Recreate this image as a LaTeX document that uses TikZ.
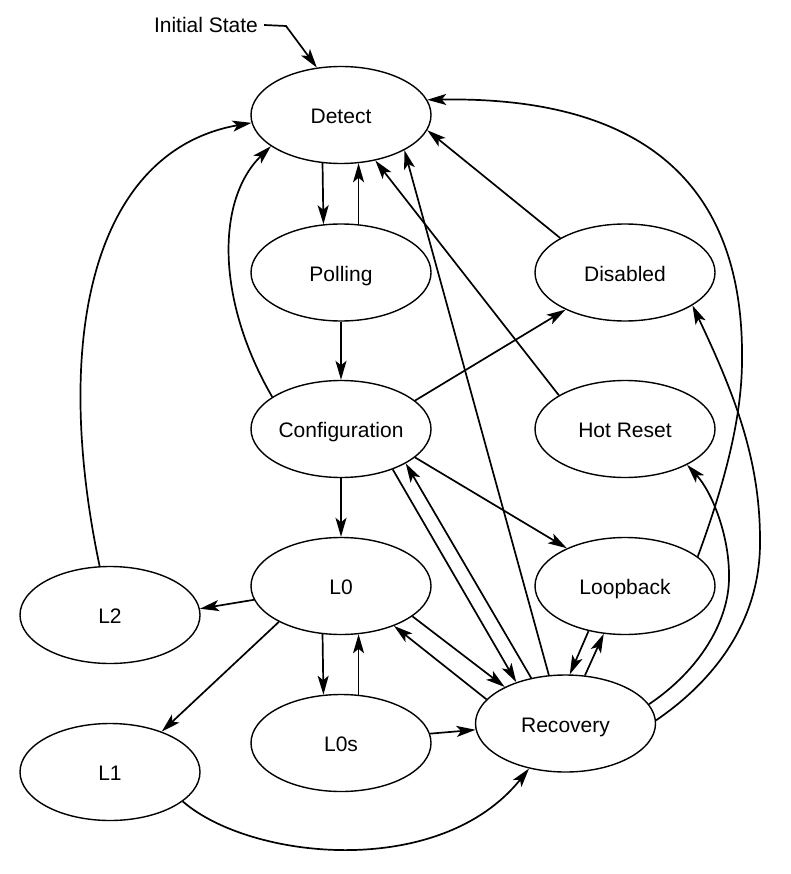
\documentclass[tikz,border=0pt]{standalone}
\usepackage{fontspec}
\setmainfont{Liberation Sans}
\usetikzlibrary{shapes.geometric,arrows.meta}
\begin{document}
\begin{tikzpicture}[x=1pt,y=-1pt,
  lbl/.style={font=\fontsize{21}{25}\selectfont},
  st/.style={ellipse,draw,line width=1.4pt,minimum width=180pt,minimum height=97pt,
    inner sep=0pt,text height=17pt,text depth=0pt,lbl},
  arr/.style={-{Stealth[length=19pt,width=11pt,inset=4.5pt]},line width=1.7pt}]
\useasboundingbox (0,0) rectangle (791,874);

\node[st] (Detect)   at (341,115)   {Detect};
\node[st] (Polling)  at (341,272.5) {Polling};
\node[st] (Config)   at (341,429)   {Configuration};
\node[st] (L0)       at (341,586)   {L0};
\node[st] (L0s)      at (341,743)   {L0s};
\node[st] (Disabled) at (625,272.5) {Disabled};
\node[st] (HotReset) at (625,429)   {Hot Reset};
\node[st] (Loopback) at (625,586)   {Loopback};
\node[st] (Recovery) at (565.5,723.5) {Recovery};
\node[st] (L2)       at (110,615)   {L2};
\node[st] (L1)       at (110,772)   {L1};

\node[lbl,inner sep=6pt] (init) at (206,25) {Initial State};
\coordinate (ib) at (286,26);
\draw[arr] (init.east) -- (ib) -- (Detect.117);

% vertical pairs
\draw[arr] (Detect.249.25) -- (Polling.110.75);
\draw[arr] (Polling.70.3) -- (Detect.-70.3);
\draw[arr] (Polling.south) -- (Config.north);
\draw[arr] (Config.south) -- (L0.north);
\draw[arr] (L0.249.25) -- (L0s.110.75);
\draw[arr] (L0s.70.3) -- (L0.-70.3);

% left side
\draw[arr] (Config.155) .. controls (216,300) and (216,200) .. (Detect.204);
\draw[arr] (L2.102) .. controls (50,330) and (97,150) .. (Detect.185);
\draw[arr] (L0.189) -- (L2.4);
\draw[arr] (L0.210) -- (L1.38.4);
\draw[arr] (L1.338) .. controls (250,860) and (440,880) .. (Recovery.231);
\draw[arr] (L0s.6.4) -- (Recovery.184.4);

% middle
\draw[arr] (Config.21) -- (Disabled.212.5);
\draw[arr] (Config.-21) -- (Loopback.147.6);
\draw[arr] (Config.-38) -- (Recovery.140);
\draw[arr] (Recovery.127) -- (Config.-28);
\draw[arr] (L0.-23.3) -- (Recovery.149.6);
\draw[arr] (Recovery.163.4) -- (L0.-37);
\draw[arr] (Recovery.109.8) -- (Detect.-29);
\draw[arr] (HotReset.153.5) -- (Detect.-53);
\draw[arr] (Disabled.152.4) -- (Detect.-10);
\draw[arr] (Loopback.231) -- (Recovery.85);
\draw[arr] (Recovery.68) -- (Loopback.246);

% right side curves
\draw[arr] (Loopback.22.5) .. controls (723,488) and (742,420) .. (742,360)
  .. controls (744,190) and (650,96) .. (Detect.10.4);
\draw[arr] (Recovery.2) .. controls (715,680) and (761,620) .. (760,540)
  .. controls (760,460) and (735,395) .. (Disabled.-26);
\draw[arr] (Recovery.13.5) .. controls (700,670) and (730,620) .. (729,575)
  .. controls (729,535) and (712,492) .. (HotReset.-30);
\end{tikzpicture}
\end{document}
